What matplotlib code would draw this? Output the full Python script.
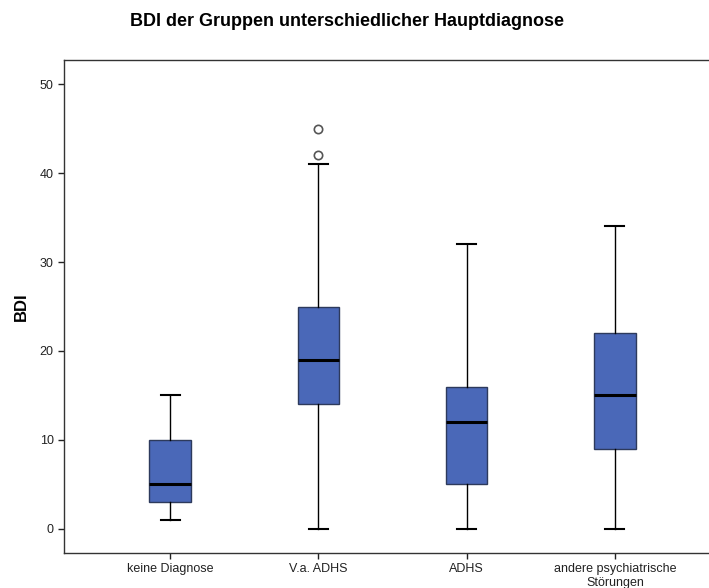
import matplotlib.pyplot as plt

plt.rcParams['font.family'] = ['Liberation Sans', 'DejaVu Sans']

# Data
groups = ['keine Diagnose', 'V.a. ADHS', 'ADHS', 'andere psychiatrische\nStörungen']
whisker_low = [1, 0, 0, 0]
q1 = [3, 14, 5, 9]
medians = [5, 19, 12, 15]
q3 = [10, 25, 16, 22]
whisker_high = [15, 41, 32, 34]
outliers = [[], [42, 45], [], []]

stats = []
for i in range(len(groups)):
    stats.append({
        'label': groups[i],
        'whislo': whisker_low[i],
        'q1': q1[i],
        'med': medians[i],
        'q3': q3[i],
        'whishi': whisker_high[i],
        'fliers': outliers[i],
    })

fig = plt.figure(figsize=(7.09, 5.88), dpi=100)
ax = fig.add_axes([64 / 709, 35 / 588, 657 / 709, 493 / 588])

ax.bxp(stats, positions=[1, 2, 3, 4], widths=0.28, patch_artist=True,
       boxprops=dict(facecolor='#4a68b8', edgecolor='#2d3a5c', linewidth=1),
       medianprops=dict(color='black', linewidth=2.2),
       whiskerprops=dict(color='black', linewidth=1),
       capprops=dict(color='black', linewidth=1.5),
       capwidths=0.13,
       flierprops=dict(marker='o', markerfacecolor='white',
                       markeredgecolor='#555555', markersize=6,
                       markeredgewidth=1.2))

ax.set_xlim(0.284, 4.716)
ax.set_ylim(-2.7, 52.7)
ax.set_yticks([0, 10, 20, 30, 40, 50])
ax.tick_params(axis='both', direction='out', length=4, width=1,
               labelsize=9, colors='#222222')
ax.set_ylabel('BDI', fontsize=12, fontweight='bold', labelpad=8)

for side in ['left', 'bottom', 'top', 'right']:
    ax.spines[side].set_color('#333333')
    ax.spines[side].set_linewidth(1)

fig.text(347 / 709, 1 - 21 / 588, 'BDI der Gruppen unterschiedlicher Hauptdiagnose',
         ha='center', va='center', fontsize=13, fontweight='bold')

fig.savefig('out.png', dpi=100)
